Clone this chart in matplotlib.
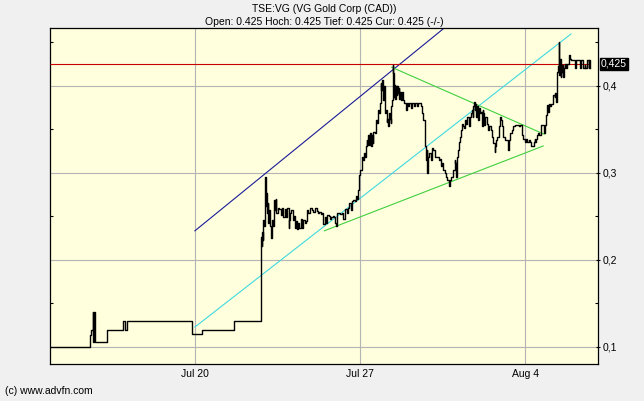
import matplotlib
matplotlib.use("Agg")
import matplotlib.pyplot as plt
from matplotlib.ticker import FixedLocator, FixedFormatter

plt.rcParams['font.family'] = ['Liberation Sans', 'DejaVu Sans']

# ---------------- text ----------------
title = "TSE:VG (VG Gold Corp (CAD))"
subtitle = "Open: 0.425 Hoch: 0.425 Tief: 0.425 Cur: 0.425 (-/-)"
credit = "(c) www.advfn.com"
current_price = 0.425
current_label = "0,425"

# ---------------- axes / ticks ----------------
# x unit = trading days since Jul 20
date_labels = ["Jul 20", "Jul 27", "Aug 4"]
date_pos = [0, 5, 10]
price_ticks = [0.1, 0.2, 0.3, 0.4]
price_tick_labels = ["0,1", "0,2", "0,3", "0,4"]
minor_price_ticks = [0.15, 0.25, 0.35, 0.45]
x_range = [-4.39, 12.21]
y_range = [0.0799, 0.4661]

# ---------------- price series (step line) ----------------
t = [
    -4.39, -3.18, -3.14, -3.10, -3.08, -3.06, -3.04, -2.65, -2.17, -2.12, -2.06, -0.08, 0.22, 1.19,
    1.99, 2.00, 2.02, 2.03, 2.05, 2.07, 2.09, 2.12, 2.14, 2.16, 2.18, 2.20, 2.22, 2.24, 2.26, 2.28,
    2.30, 2.33, 2.36, 2.39, 2.41, 2.43, 2.45, 2.47, 2.52, 2.56, 2.60, 2.64, 2.68, 2.72, 2.76, 2.80,
    2.84, 2.86, 2.88, 2.92, 2.96, 3.00, 3.03, 3.06, 3.09, 3.12, 3.16, 3.20, 3.24, 3.28, 3.32, 3.36,
    3.40, 3.44, 3.48, 3.55, 3.59, 3.65, 3.69, 3.73, 3.77, 3.81, 3.85, 3.89, 3.93, 3.97, 4.01, 4.05,
    4.09, 4.13, 4.17, 4.21, 4.25, 4.27, 4.29, 4.31, 4.35, 4.39, 4.45, 4.50, 4.54, 4.56, 4.60, 4.64,
    4.68, 4.72, 4.76, 4.80, 4.84, 4.88, 4.92, 4.94, 4.96, 4.98, 5.00,
    5.02, 5.05, 5.08, 5.12, 5.15, 5.18, 5.20, 5.22, 5.25, 5.28, 5.30, 5.32, 5.35, 5.38, 5.40, 5.44,
    5.49, 5.53, 5.56, 5.59, 5.61, 5.63, 5.65, 5.67, 5.69, 5.71, 5.73, 5.75, 5.77, 5.79, 5.81, 5.83,
    5.85, 5.87, 5.89, 5.91, 5.93, 5.95, 5.97, 5.99, 6.01, 6.03, 6.05, 6.07, 6.09, 6.11, 6.13, 6.15,
    6.17, 6.19, 6.21, 6.23, 6.25, 6.27, 6.29, 6.31, 6.33, 6.37, 6.39, 6.41, 6.45, 6.49, 6.54, 6.58,
    6.64, 6.68, 6.72, 6.76, 6.82, 6.86, 6.88,
    6.92, 6.96, 6.98, 7.00, 7.02, 7.04, 7.06, 7.10, 7.14, 7.18, 7.22, 7.26, 7.32, 7.38, 7.42, 7.44,
    7.48, 7.52, 7.57, 7.61, 7.65, 7.69, 7.71, 7.73, 7.77, 7.81, 7.83, 7.87, 7.89, 7.91, 7.93, 7.97,
    8.01, 8.03, 8.07, 8.09, 8.11, 8.15, 8.17, 8.21, 8.25, 8.29, 8.33, 8.37, 8.39, 8.41, 8.43, 8.45,
    8.47, 8.49, 8.51, 8.54, 8.56, 8.60, 8.64, 8.68, 8.70, 8.72, 8.74, 8.76, 8.80, 8.84, 8.88, 8.92,
    8.96, 9.00, 9.04, 9.08, 9.10, 9.12, 9.16, 9.20, 9.24, 9.28, 9.30, 9.34, 9.40, 9.44, 9.48, 9.50,
    9.54, 9.61, 9.65, 9.69, 9.73, 9.77, 9.81,
    9.85, 9.91, 9.95, 9.99, 10.03, 10.07, 10.11, 10.15, 10.17, 10.25, 10.27, 10.29, 10.31, 10.33,
    10.35, 10.39, 10.43, 10.47, 10.58, 10.60, 10.62, 10.64, 10.66, 10.68, 10.70, 10.72, 10.76, 10.80,
    10.84, 10.86, 10.90, 10.92, 10.94, 10.96, 10.98, 11.00, 11.02, 11.03, 11.04, 11.06, 11.08, 11.10,
    11.12, 11.14, 11.16, 11.18, 11.20, 11.24, 11.26, 11.32, 11.34, 11.36, 11.40, 11.52, 11.54, 11.67,
    11.71, 11.75, 11.81, 11.83, 11.87, 11.93, 11.95, 11.96,
]
price = [
    0.100, 0.113, 0.119, 0.140, 0.105, 0.140, 0.105, 0.119, 0.129, 0.119, 0.129, 0.114, 0.119, 0.129,
    0.211, 0.226, 0.215, 0.232, 0.222, 0.245, 0.238, 0.295, 0.261, 0.276, 0.253, 0.265, 0.242, 0.257, 0.249, 0.238,
    0.225, 0.245, 0.238, 0.261, 0.268, 0.257, 0.269, 0.253, 0.259, 0.258, 0.251, 0.259, 0.249, 0.258, 0.249, 0.259,
    0.236, 0.245, 0.253, 0.257, 0.245, 0.250, 0.236, 0.244, 0.235, 0.242, 0.236, 0.246, 0.236, 0.245, 0.242, 0.244,
    0.257, 0.253, 0.259, 0.257, 0.255, 0.259, 0.256, 0.253, 0.255, 0.252, 0.254, 0.241, 0.249, 0.242, 0.251, 0.250,
    0.247, 0.249, 0.250, 0.249, 0.242, 0.239, 0.249, 0.253, 0.254, 0.252, 0.254, 0.246, 0.253, 0.258, 0.253, 0.259,
    0.265, 0.257, 0.267, 0.268, 0.267, 0.273, 0.270, 0.280, 0.288, 0.297, 0.303,
    0.303, 0.318, 0.314, 0.322, 0.318, 0.330, 0.337, 0.332, 0.343, 0.332, 0.345, 0.330, 0.343, 0.334, 0.347, 0.345,
    0.360, 0.357, 0.372, 0.368, 0.380, 0.403, 0.395, 0.406, 0.391, 0.383, 0.399, 0.380, 0.368, 0.372, 0.358, 0.362,
    0.353, 0.357, 0.368, 0.362, 0.357, 0.376, 0.383, 0.424, 0.414, 0.387, 0.401, 0.385, 0.399, 0.389, 0.399, 0.391,
    0.397, 0.385, 0.393, 0.391, 0.383, 0.393, 0.387, 0.383, 0.380, 0.380, 0.372, 0.380, 0.376, 0.380, 0.374, 0.380,
    0.376, 0.380, 0.376, 0.380, 0.380, 0.376, 0.368,
    0.360, 0.353, 0.330, 0.314, 0.326, 0.299, 0.318, 0.322, 0.314, 0.328, 0.326, 0.318, 0.318, 0.314, 0.316, 0.307,
    0.311, 0.303, 0.299, 0.295, 0.291, 0.288, 0.284, 0.291, 0.295, 0.299, 0.303, 0.314, 0.311, 0.295, 0.318, 0.326,
    0.335, 0.341, 0.349, 0.356, 0.353, 0.351, 0.360, 0.356, 0.364, 0.353, 0.364, 0.368, 0.372, 0.364, 0.376, 0.381,
    0.372, 0.379, 0.364, 0.376, 0.360, 0.374, 0.368, 0.370, 0.353, 0.372, 0.368, 0.355, 0.364, 0.356, 0.349, 0.353,
    0.349, 0.341, 0.334, 0.324, 0.330, 0.337, 0.341, 0.353, 0.364, 0.360, 0.353, 0.341, 0.337, 0.337, 0.326, 0.337,
    0.345, 0.349, 0.353, 0.355, 0.355, 0.355, 0.353,
    0.355, 0.343, 0.339, 0.335, 0.339, 0.335, 0.337, 0.335, 0.330, 0.330, 0.335, 0.339, 0.335, 0.339,
    0.343, 0.345, 0.343, 0.355, 0.345, 0.355, 0.364, 0.366, 0.372, 0.378, 0.370, 0.379, 0.376, 0.379,
    0.383, 0.389, 0.387, 0.391, 0.381, 0.408, 0.416, 0.422, 0.450, 0.435, 0.412, 0.431, 0.410, 0.424,
    0.416, 0.424, 0.410, 0.420, 0.425, 0.420, 0.425, 0.429, 0.435, 0.431, 0.429, 0.420, 0.429, 0.420,
    0.429, 0.420, 0.424, 0.420, 0.429, 0.420, 0.429, 0.420,
]

# ---------------- drawn trend lines (endpoints) ----------------
blue_t, blue_p = [0.0, 7.55], [0.233, 0.466]
cyan_t, cyan_p = [0.0, 11.39], [0.1224, 0.4592]
green_hi_t, green_hi_p = [5.96, 10.58], [0.421, 0.344]
green_lo_t, green_lo_p = [3.92, 10.55], [0.233, 0.3305]

# ---------------- figure ----------------
W, H = 644, 401
fig = plt.figure(figsize=(W / 100, H / 100), dpi=100, facecolor='#f0f0f0')
ax = fig.add_axes([50 / W, 37 / H, 548 / W, 336 / H])
ax.set_facecolor('#ffffdd')
ax.set_xlim(*x_range)
ax.set_ylim(*y_range)

for s in ax.spines.values():
    s.set_color('black')
    s.set_linewidth(0.9)

# grid
ax.xaxis.set_major_locator(FixedLocator(date_pos))
ax.xaxis.set_major_formatter(FixedFormatter(date_labels))
ax.yaxis.set_major_locator(FixedLocator(price_ticks))
ax.yaxis.set_major_formatter(FixedFormatter(price_tick_labels))
ax.yaxis.set_minor_locator(FixedLocator(minor_price_ticks))
ax.grid(True, which='major', color='#b4b4b4', linewidth=0.8)
ax.set_axisbelow(True)

ax.yaxis.tick_right()
ax.tick_params(axis='y', which='major', right=True, left=False, direction='inout',
               length=3, width=0.8, pad=1.5, labelsize=7.5, colors='black')
ax.tick_params(axis='y', which='minor', right=True, left=True, direction='in',
               length=2.5, width=0.8)
ax.tick_params(axis='x', which='major', length=0, pad=3.5, labelsize=7.5)

# trend lines
ax.plot(blue_t, blue_p, color='#1a1a9a', linewidth=0.8, zorder=2)
ax.plot(cyan_t, cyan_p, color='#40d8e0', linewidth=0.8, zorder=2)
ax.plot(green_hi_t, green_hi_p, color='#40d040', linewidth=0.8, zorder=2)
ax.plot(green_lo_t, green_lo_p, color='#40d040', linewidth=0.8, zorder=2)

# current price line
ax.hlines(current_price, x_range[0], t[-1], color='#c80000', linewidth=0.8, zorder=3)

# price line
ax.plot(t, price, drawstyle='steps-post', color='black', linewidth=1.0, zorder=4)

# current price label box
ax.annotate(current_label, xy=(1.0, current_price), xycoords=('axes fraction', 'data'),
            xytext=(2.2, 0), textcoords='offset points', ha='left', va='center',
            color='white', fontsize=7.5,
            bbox=dict(boxstyle='square,pad=0.12', fc='black', ec='black'),
            annotation_clip=False)

# texts
cx = (50 + 598) / 2 / W
fig.text(cx, 1 - 9 / H, title, ha='center', va='center', fontsize=7.5)
fig.text(cx, 1 - 22 / H, subtitle, ha='center', va='center', fontsize=7.5)
fig.text(5 / W, 1 - 391 / H, credit, ha='left', va='center', fontsize=7.5)

fig.savefig('out.png', dpi=100, facecolor=fig.get_facecolor())
